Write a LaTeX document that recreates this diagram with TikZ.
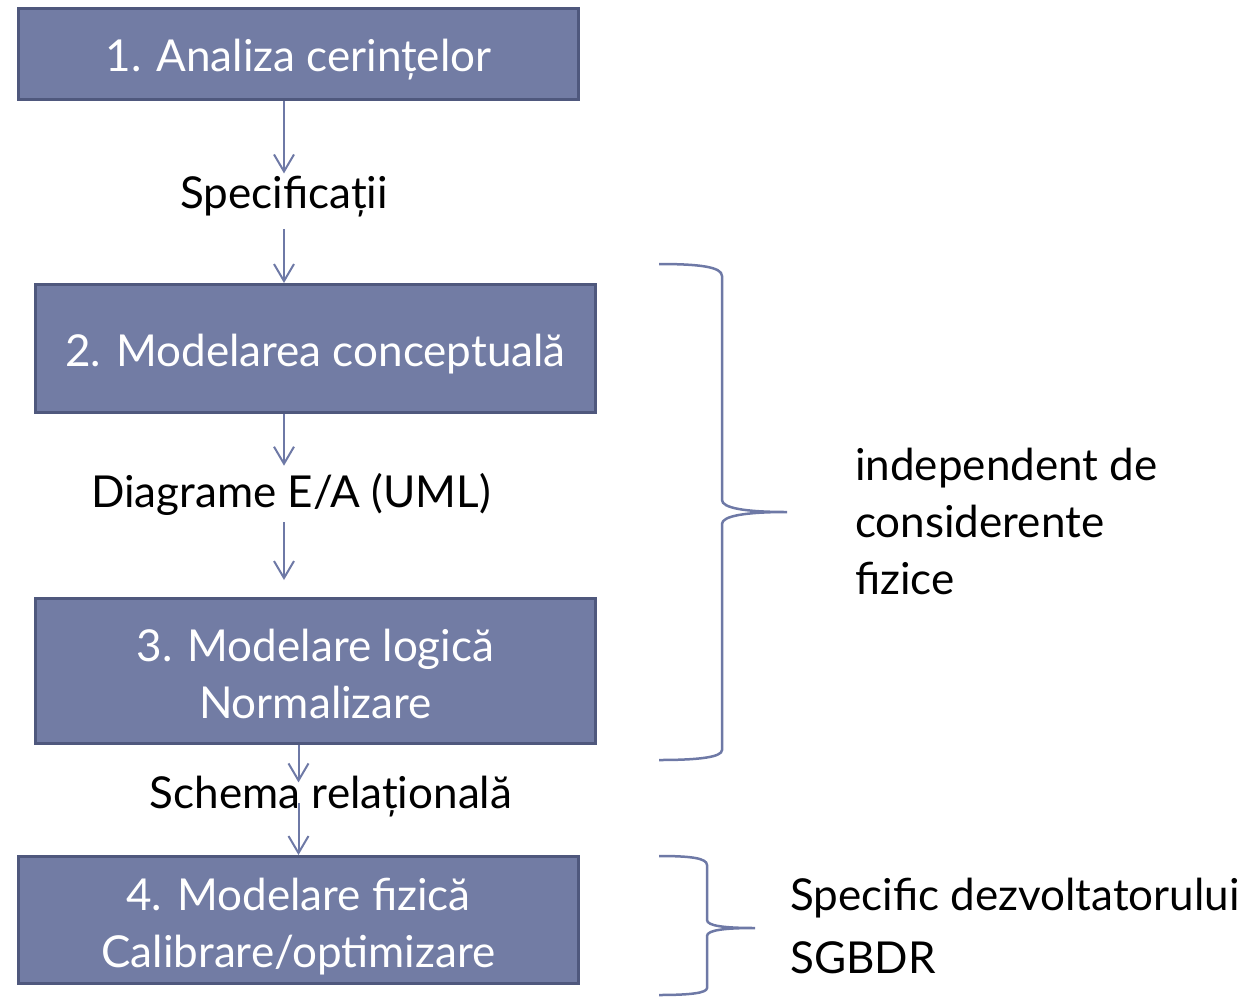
\documentclass[tikz,border=0pt]{standalone}
\usepackage{fontspec}
\setmainfont{Lato}
\usetikzlibrary{arrows.meta}
\definecolor{boxfill}{RGB}{114,124,164}
\definecolor{boxline}{RGB}{79,88,125}
\definecolor{arrcol}{RGB}{110,121,166}
\newcommand{\topstrut}[1]{\rule{0pt}{#1}}
\begin{document}
\begin{tikzpicture}[x=1pt,y=-1pt,
  box/.style={draw=boxline, line width=3pt, fill=boxfill, text=white,
    font=\fontsize{44}{57}\selectfont, align=center, minimum width=560pt, inner sep=0pt},
  onebox/.style={box, text height=34pt, text depth=0pt},
  lbl/.style={font=\fontsize{44}{57}\selectfont, text=black, inner sep=0pt},
  arr/.style={draw=arrcol, line width=2pt, -{Straight Barb[length=17pt,width=20pt,line width=2pt]}},
  brace/.style={draw=arrcol, line width=2.5pt}]
\useasboundingbox (0,0) rectangle (1251,997);
% boxes
\node[onebox, minimum height=91pt]  (b1) at (298.5,54)    {1. Analiza cerințelor};
\node[onebox, minimum height=128pt, text height=36pt] (b2) at (315.5,348.5) {2. Modelarea conceptuală};
\node[box, minimum height=145pt] (b3) at (315.5,671)   {\topstrut{39pt}3. Modelare logică\\Normalizare};
\node[box, minimum height=127pt] (b4) at (298.5,920)   {\topstrut{45pt}4. Modelare fizică\\Calibrare/optimizare};
% labels
\node[lbl, anchor=base] (spec) at (284,208) {Specificații};
\node[lbl, anchor=base] (diag) at (291,507) {Diagrame E/A (UML)};
\node[lbl, anchor=base] (sch)  at (331,808) {Schema relațională};
\node[lbl, anchor=north west, align=left] (ind) at (855,448) {independent de\\considerente\\fizice};
\node[lbl, anchor=north west, align=left, font=\fontsize{44}{63}\selectfont] (sgb) at (790,878) {Specific dezvoltatorului\\SGBDR};
% arrows
\draw[arr, shorten >=2pt]   (b1.south -| spec) -- (spec.north);
\draw[arr, shorten <=12pt]  (spec.south) -- (b2.north -| spec);
\draw[arr, shorten >=7pt]   (b2.south -| spec) -- (diag.north -| spec);
\draw[arr, shorten <=7pt, shorten >=17pt] (diag.south -| spec) -- (b3.north -| spec);
\draw[arr, shorten >=-7pt]  (b3.south -| b4) -- (sch.north -| b4);
\draw[arr, shorten <=-14pt] (sch.south -| b4) -- (b4.north);
% braces
\draw[brace] (659,264) .. controls (700,264) and (722,267) .. (722,276) -- (722,500)
  .. controls (722,508) and (745,512) .. (787,512)
  .. controls (745,512) and (722,516) .. (722,524) -- (722,750)
  .. controls (722,757) and (700,760) .. (659,760);
\draw[brace] (659,856) .. controls (690,856) and (707,858) .. (707,865) -- (707,920)
  .. controls (707,926) and (725,928) .. (755,928)
  .. controls (725,928) and (707,930) .. (707,936) -- (707,988)
  .. controls (707,993) and (690,995) .. (659,995);
\end{tikzpicture}
\end{document}
